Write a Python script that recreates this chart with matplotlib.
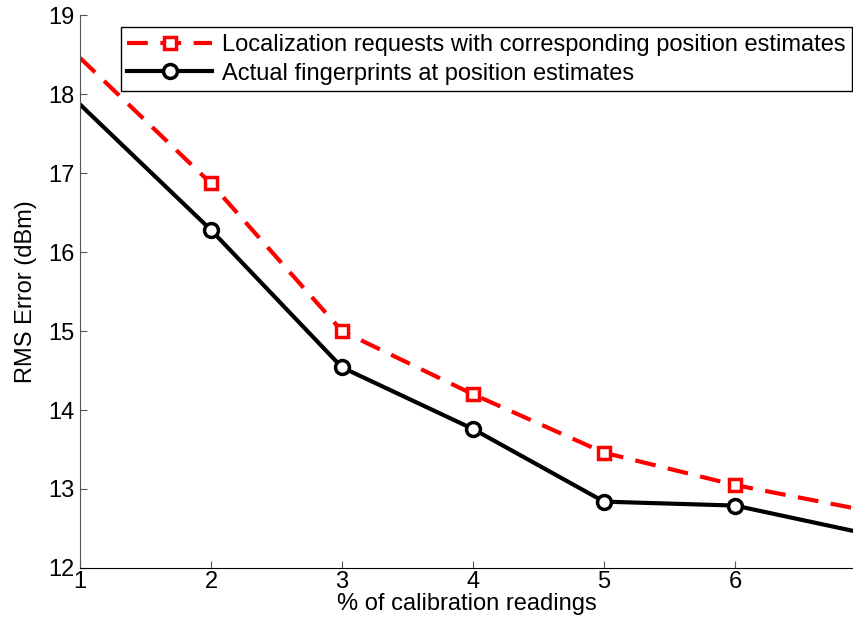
import numpy as np
import matplotlib.pyplot as plt

# -------------------- Data --------------------
calib_pct = [1, 2, 3, 4, 5, 6, 6.9]
rms_requests = [18.46, 16.87, 15.0, 14.2, 13.46, 13.05, 12.76]
rms_actual = [17.87, 16.28, 14.54, 13.76, 12.84, 12.79, 12.47]
label_requests = "Localization requests with corresponding position estimates"
label_actual = "Actual fingerprints at position estimates"

plt.rcParams['font.family'] = ['Liberation Sans', 'DejaVu Sans']

fig = plt.figure(figsize=(8.54, 6.36), dpi=100)
ax = fig.add_axes([0.0937, 0.107, 0.905, 0.869])

marks = [1, 2, 3, 4, 5]
ax.plot(calib_pct, rms_requests, color='red', linestyle=(0, (5, 3)), linewidth=3,
        marker='s', markersize=9, markerfacecolor='white', markeredgecolor='red',
        markeredgewidth=2.5, markevery=marks, label=label_requests)
ax.plot(calib_pct, rms_actual, color='black', linestyle='-', linewidth=3,
        marker='o', markersize=10, markerfacecolor='white', markeredgecolor='black',
        markeredgewidth=2.5, markevery=marks, label=label_actual)

ax.set_xlim(1, 6.9)
ax.set_ylim(12, 19)
ax.set_xticks([1, 2, 3, 4, 5, 6])
ax.set_yticks(range(12, 20))
ax.tick_params(direction='in', length=5, labelsize=17, colors='black')
ax.tick_params(axis='both', color='#555555')
ax.tick_params(axis='x', pad=2)
ax.tick_params(axis='y', pad=4)
ax.spines['top'].set_visible(False)
ax.spines['right'].set_visible(False)
ax.spines['left'].set_color('#555555')
ax.spines['bottom'].set_color('black')

ax.set_xlabel("% of calibration readings", fontsize=17, labelpad=0)
ax.set_ylabel("RMS Error (dBm)", fontsize=17, labelpad=8)

leg = ax.legend(loc='upper right', bbox_to_anchor=(0.999, 0.978), fontsize=17,
                fancybox=False, framealpha=1, edgecolor='black', handlelength=3.6,
                borderaxespad=0, labelspacing=0.28, borderpad=0.28, handletextpad=0.4)
leg.get_frame().set_linewidth(1.0)

fig.savefig("out.png", dpi=100)
